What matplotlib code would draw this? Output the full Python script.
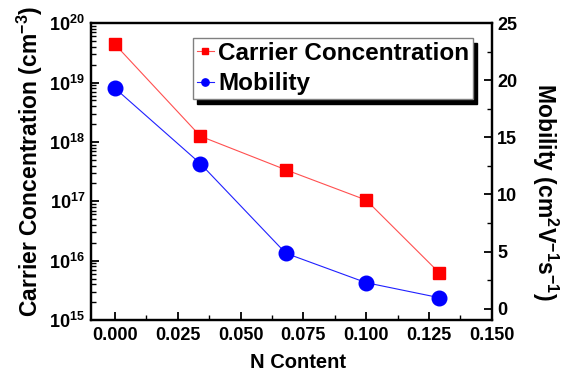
import matplotlib
matplotlib.use('Agg')
import matplotlib.pyplot as plt
import numpy as np
from matplotlib.ticker import LogLocator, FuncFormatter, MultipleLocator, NullFormatter

plt.rcParams['font.family'] = 'Liberation Sans'
plt.rcParams['font.weight'] = 'bold'
plt.rcParams['axes.labelweight'] = 'bold'
plt.rcParams['mathtext.fontset'] = 'custom'
plt.rcParams['mathtext.rm'] = 'Liberation Sans'
plt.rcParams['mathtext.bf'] = 'Liberation Sans:bold'
plt.rcParams['mathtext.it'] = 'Liberation Sans:italic'

# data
n_content = [0.000, 0.034, 0.068, 0.100, 0.129]
carrier_conc = [4.4e19, 1.25e18, 3.4e17, 1.05e17, 6.3e15]   # cm^-3
mobility = [19.3, 12.7, 4.85, 2.27, 0.96]                    # cm^2 V^-1 s^-1

x_ticks = [0.000, 0.025, 0.050, 0.075, 0.100, 0.125, 0.150]

fig = plt.figure(figsize=(5.61, 3.72), dpi=100)
ax = fig.add_axes([0.1617, 0.1398, 0.7148, 0.7976])
ax2 = ax.twinx()

l1, = ax.plot(n_content, carrier_conc, '-', color='#ff5050', lw=0.8,
              marker='s', ms=8.5, mfc='red', mec='red', label='Carrier Concentration')
l2, = ax2.plot(n_content, mobility, '-', color='#2020ff', lw=0.8,
               marker='o', ms=10.5, mfc='blue', mec='blue', label='Mobility')

# left axis (log)
ax.set_yscale('log')
ax.set_ylim(1e15, 1e20)
ax.yaxis.set_major_locator(LogLocator(base=10, numticks=10))
ax.yaxis.set_minor_locator(LogLocator(base=10, subs=np.arange(2, 10), numticks=20))
ax.yaxis.set_minor_formatter(NullFormatter())
ax.yaxis.set_major_formatter(FuncFormatter(
    lambda v, p: r'$\mathbf{10^{%d}}$' % int(round(np.log10(v)))))

# x axis
ax.set_xlim(-0.0097, 0.15)
ax.set_xticks(x_ticks)
ax.xaxis.set_major_formatter(FuncFormatter(lambda v, p: '%.3f' % v))
ax.xaxis.set_minor_locator(MultipleLocator(0.0125))

# right axis
ax2.set_ylim(-1, 25)
ax2.yaxis.set_major_locator(MultipleLocator(5))
ax2.yaxis.set_minor_locator(MultipleLocator(2.5))

for a in (ax, ax2):
    for s in a.spines.values():
        s.set_linewidth(1.6)
    a.tick_params(which='major', direction='in', length=6, width=1.3, labelsize=13)
    a.tick_params(which='minor', direction='in', length=3.5, width=1.0)
ax.tick_params(axis='x', pad=5)
ax.tick_params(axis='y', pad=4)
ax2.tick_params(axis='y', pad=4)

# axis labels
ax.set_xlabel('N Content', fontsize=14.5)
ax.xaxis.set_label_coords(0.517, -0.112)
ax.text(-0.151, 0.534, r'Carrier Concentration $\mathrm{(cm^{-3})}$', transform=ax.transAxes,
        rotation=90, ha='center', va='center', fontsize=16.5)
ax2.text(1.133, 0.433, r'Mobility $\mathrm{(cm^{2}V^{-1}s^{-1})}$', transform=ax.transAxes,
         rotation=270, ha='center', va='center', fontsize=16.5)

leg = ax2.legend([l1, l2], ['Carrier Concentration', 'Mobility'],
                 loc='upper left', bbox_to_anchor=(0.255, 0.95), borderaxespad=0,
                 fontsize=17.5, markerscale=0.5, handlelength=0.7, handletextpad=0.2,
                 borderpad=0.15, labelspacing=0.3, fancybox=False, framealpha=1,
                 edgecolor='#808080',
                 shadow={'ox': 3, 'oy': -3.5, 'color': 'black', 'alpha': 1})
leg.get_frame().set_linewidth(1.0)

fig.savefig('out.png', dpi=100)
